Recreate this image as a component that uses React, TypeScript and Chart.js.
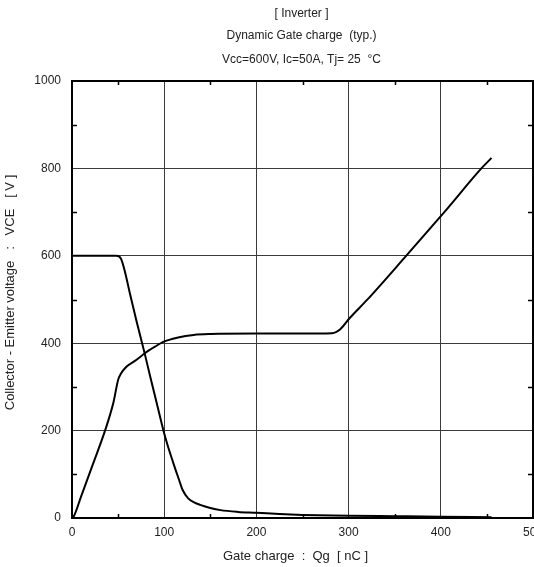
import React, { useEffect, useRef } from "react";
import { Chart, registerables } from "chart.js";

Chart.register(...registerables);

// Heading and axis captions
const titleLines = ["[ Inverter ]", "Dynamic Gate charge  (typ.)", "Vcc=600V, Ic=50A, Tj= 25  °C"];
const xAxisTitle = "Gate charge  :  Qg  [ nC ]";
const yAxisTitle = "Collector - Emitter voltage   :   VCE   [ V ]";

// Tick positions
const xTicks = [0, 100, 200, 300, 400, 500];
const yTicks = [0, 200, 400, 600, 800, 1000];
const xMinorTicks = [50, 150, 250, 350, 450];
const yMinorTicks = [100, 300, 500, 700, 900];

// Collector-emitter voltage falling during turn-on
const vceCharge = [0, 30, 48, 53, 57, 63, 70, 79, 85, 92, 101, 110, 116, 120, 126, 133, 139, 150, 161, 180, 200, 225, 250, 300, 350, 400, 455];
const vceVolts = [600, 600, 600, 594, 567, 512, 450, 375, 322, 262, 186, 125, 88, 64, 45, 35, 30, 23, 18, 14, 12, 9, 7, 5, 4, 3, 2];

// Gate charge curve (plateau and rise)
const gateCharge = [0, 2, 10, 23, 36, 45, 50, 53, 59, 70, 79, 90, 99, 115, 132, 150, 200, 250, 282, 291, 301, 320, 360, 405, 444, 455];
const gateCurve = [0, 4, 50, 125, 201, 265, 316, 330, 346, 362, 377, 392, 403, 413, 419, 421, 422, 422, 423, 432, 457, 499, 594, 703, 800, 824];

const FONT = "'Liberation Sans', Arial, Helvetica, sans-serif";
const TEXT = "#222";

const toPoints = (xs: number[], ys: number[]) => xs.map((x, i) => ({ x, y: ys[i] }));

const framePlugin = {
  id: "frameAndMinorTicks",
  beforeDatasetsDraw(chart: any) {
    const { ctx, chartArea, scales } = chart;
    const { left, right, top, bottom } = chartArea;
    ctx.save();
    ctx.strokeStyle = "#000";
    ctx.lineWidth = 1.5;
    const tick = 4;
    ctx.beginPath();
    xMinorTicks.forEach((v) => {
      const px = Math.round(scales.x.getPixelForValue(v)) + 0.5;
      ctx.moveTo(px, bottom);
      ctx.lineTo(px, bottom - tick);
      ctx.moveTo(px, top);
      ctx.lineTo(px, top + tick);
    });
    yMinorTicks.forEach((v) => {
      const py = Math.round(scales.y.getPixelForValue(v)) + 0.5;
      ctx.moveTo(left, py);
      ctx.lineTo(left + tick + 1, py);
      ctx.moveTo(right, py);
      ctx.lineTo(right - tick - 1, py);
    });
    ctx.stroke();
    ctx.lineWidth = 2;
    ctx.strokeRect(left, top, right - left, bottom - top);
    ctx.restore();
  },
  afterDraw(chart: any) {
    const { ctx, chartArea } = chart;
    const cx = (chartArea.left + chartArea.right) / 2 - 1;
    const ys = [14, 36, 60];
    ctx.save();
    ctx.fillStyle = TEXT;
    ctx.font = `12px ${FONT}`;
    ctx.textAlign = "center";
    ctx.textBaseline = "middle";
    titleLines.forEach((t, i) => ctx.fillText(t, cx, ys[i]));

    // axis captions, set slightly left of / above the plot centre
    ctx.font = `13px ${FONT}`;
    ctx.fillText(xAxisTitle, cx - 6, 556);
    ctx.translate(10, (chartArea.top + chartArea.bottom) / 2 - 7);
    ctx.rotate(-Math.PI / 2);
    ctx.fillText(yAxisTitle, 0, 0);
    ctx.restore();
  },
};

export default function App() {
  const ref = useRef<HTMLCanvasElement>(null);

  useEffect(() => {
    document.body.style.margin = "0";
    const canvas = ref.current;
    if (!canvas) return;
    const chart = new Chart(canvas, {
      type: "line",
      data: {
        datasets: [
          {
            label: "VCE",
            data: toPoints(vceCharge, vceVolts),
            borderColor: "#000",
            borderWidth: 2,
            pointRadius: 0,
            cubicInterpolationMode: "monotone",
            fill: false,
          },
          {
            label: "VGE",
            data: toPoints(gateCharge, gateCurve),
            borderColor: "#000",
            borderWidth: 2,
            pointRadius: 0,
            cubicInterpolationMode: "monotone",
            fill: false,
          },
        ],
      },
      options: {
        animation: false,
        responsive: false,
        devicePixelRatio: 1,
        layout: { padding: { top: 81, right: 1, bottom: 0, left: 0 } },
        plugins: {
          legend: { display: false },
          tooltip: { enabled: false },
          title: { display: false },
        },
        scales: {
          x: {
            type: "linear",
            min: 0,
            max: 500,
            afterBuildTicks: (s: any) => {
              s.ticks = xTicks.map((v) => ({ value: v }));
            },
            afterFit: (s: any) => {
              s.height = 49;
              s.paddingLeft = 0;
              s.paddingRight = 0;
            },
            grid: { color: "#3a3a3a", lineWidth: 1, drawTicks: false },
            border: { display: false },
            ticks: {
              padding: 7,
              color: TEXT,
              font: { family: FONT, size: 12 },
              maxRotation: 0,
              callback: (v: any) => String(v),
            },
            title: { display: false },
          },
          y: {
            type: "linear",
            min: 0,
            max: 1000,
            afterBuildTicks: (s: any) => {
              s.ticks = yTicks.map((v) => ({ value: v }));
            },
            afterFit: (s: any) => {
              s.width = 72;
              s.paddingTop = 0;
              s.paddingBottom = 0;
            },
            grid: { color: "#3a3a3a", lineWidth: 1, drawTicks: false },
            border: { display: false },
            ticks: {
              padding: 11,
              color: TEXT,
              font: { family: FONT, size: 12 },
              callback: (v: any) => String(v),
            },
            title: { display: false },
          },
        },
      },
      plugins: [framePlugin],
    });
    return () => chart.destroy();
  }, []);

  return <canvas ref={ref} width={534} height={567} style={{ display: "block" }} />;
}
